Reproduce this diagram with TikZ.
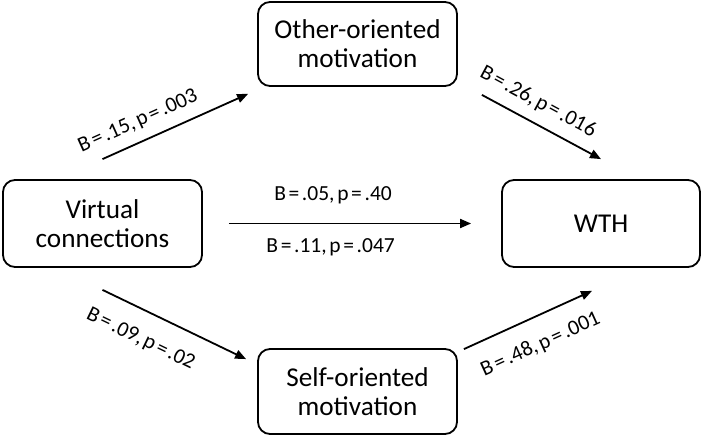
\documentclass[tikz,border=0pt]{standalone}
\usepackage{fontspec}
\setmainfont{Carlito}
\newfontfamily\lblfont[WordSpace=0.55]{Carlito}
\usetikzlibrary{arrows.meta}
\begin{document}
\begin{tikzpicture}[x=1pt,y=-1pt,
  box/.style={draw, line width=1.8pt, rounded corners=12pt, align=center,
    font=\fontsize{27.2}{29}\selectfont, inner sep=0pt,
    minimum width=199pt},
  arr/.style={line width=1.8pt, -{Triangle[length=11pt,width=9pt]}},
  lbl/.style={font=\lblfont\fontsize{21.5}{24}\selectfont, inner sep=0pt, sloped}]
\useasboundingbox (0,0) rectangle (704,438);
\node[box, minimum height=84pt] (oo) at (357.5,44) {Other-oriented\\motivation};
\node[box, minimum height=87pt] (vc) at (102.5,223.5) {Virtual\\connections};
\node[box, minimum width=198pt, minimum height=87pt] (wth) at (601,223.5) {WTH};
\node[box, minimum height=85pt] (ss) at (357.5,391.5) {Self-oriented\\motivation};

\draw[arr] ([yshift=20pt]vc.north) --
  node[lbl, pos=0.30, above=10pt] (l1) {B = .15, p = .003}
  ([xshift=-9pt,yshift=-7pt]oo.south west);
\draw[arr] ([xshift=24pt,yshift=-8pt]oo.south east) --
  node[lbl, pos=0.39, above=10.5pt] (l2) {B = .26, p = .016}
  ([yshift=20pt]wth.north);
\draw[arr] ([xshift=26pt]vc.east) --
  node[lbl, pos=0.43, above=18.5pt] (l3) {B = .05, p = .40}
  node[lbl, pos=0.42, below=14.5pt] (l4) {B = .11, p = .047}
  ([xshift=-30pt]wth.west);
\draw[arr] ([yshift=-22pt]vc.south) --
  node[lbl, pos=0.35, below=18.5pt] (l5) {B = .09, p = .02}
  ([xshift=-11pt,yshift=-11pt]ss.north west);
\draw[arr] ([xshift=6pt,yshift=-1pt]ss.north east) --
  node[lbl, pos=0.51, below=17.5pt] (l6) {B = .48, p = .001}
  ([xshift=-9pt,yshift=-23pt]wth.south);
\end{tikzpicture}
\end{document}
